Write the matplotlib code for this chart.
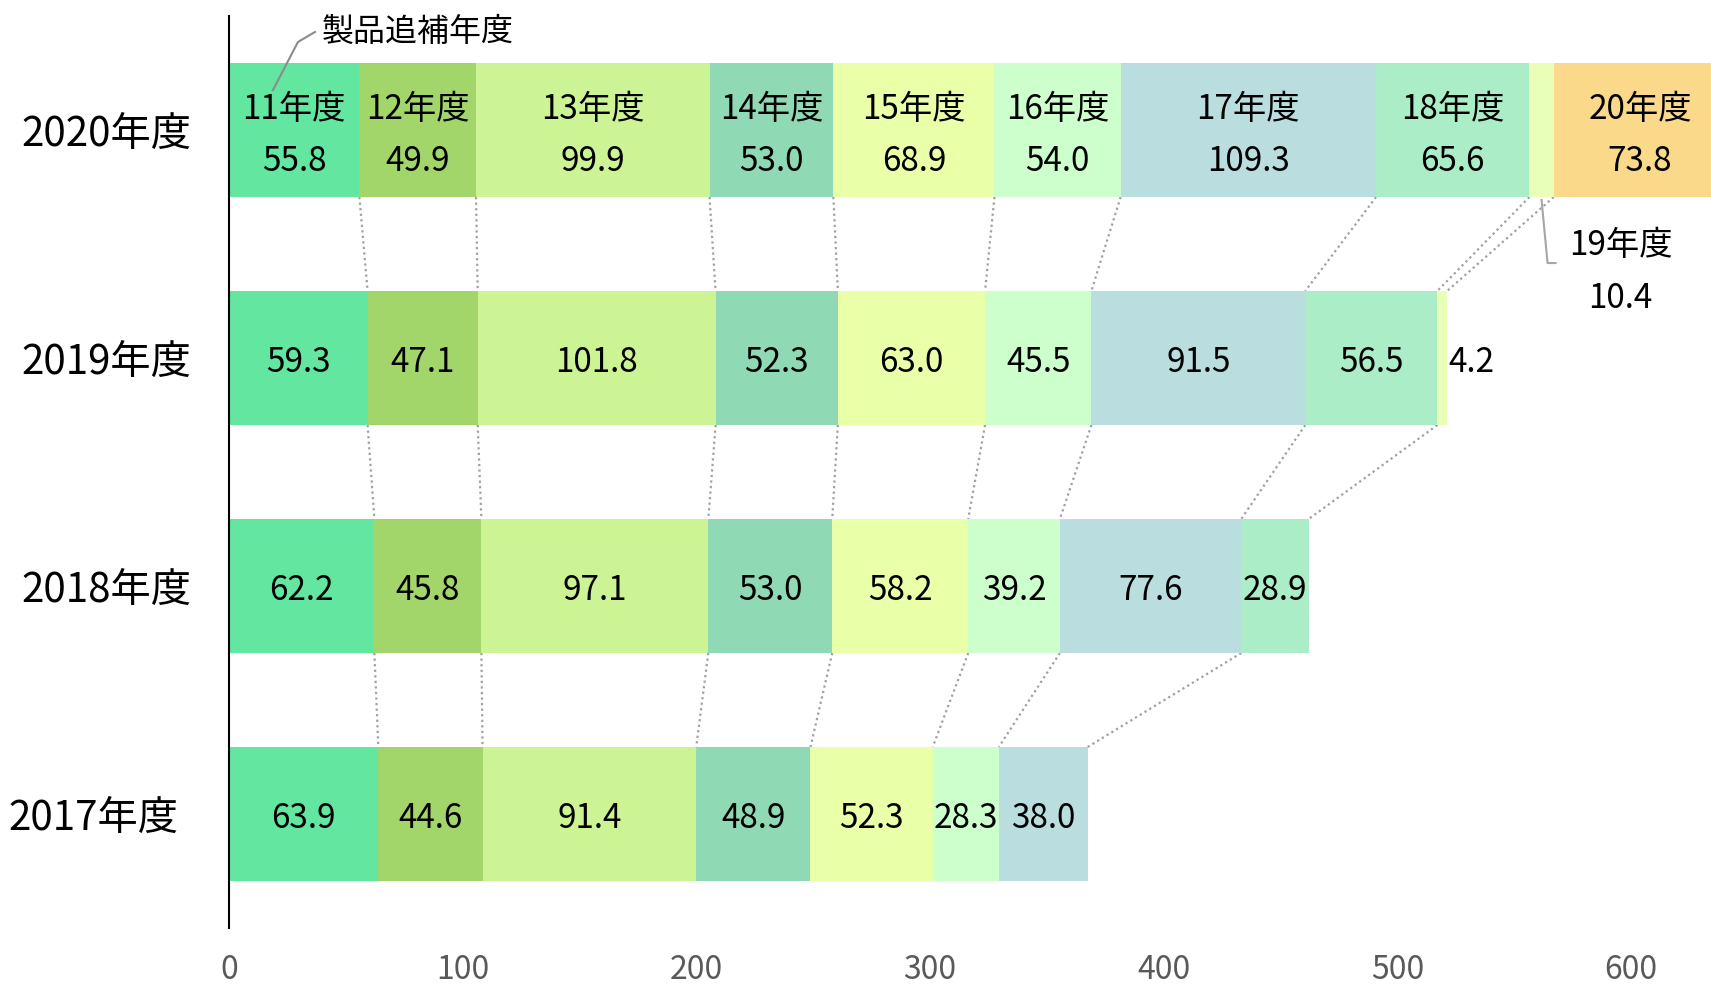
import matplotlib
matplotlib.use("Agg")
import matplotlib.pyplot as plt
import numpy as np

plt.rcParams['font.family'] = ['Noto Sans CJK JP', 'DejaVu Sans']

fiscal_years = ['2017年度', '2018年度', '2019年度', '2020年度']
product_years = ['11年度', '12年度', '13年度', '14年度', '15年度',
                 '16年度', '17年度', '18年度', '19年度', '20年度']
values_2017 = [63.9, 44.6, 91.4, 48.9, 52.3, 28.3, 38.0]
values_2018 = [62.2, 45.8, 97.1, 53.0, 58.2, 39.2, 77.6, 28.9]
values_2019 = [59.3, 47.1, 101.8, 52.3, 63.0, 45.5, 91.5, 56.5, 4.2]
values_2020 = [55.8, 49.9, 99.9, 53.0, 68.9, 54.0, 109.3, 65.6, 10.4, 73.8]
series = [values_2017, values_2018, values_2019, values_2020]
x_ticks = [0, 100, 200, 300, 400, 500, 600]

colors = ['#62E6A0', '#A3D66A', '#CCF495', '#8FDAB4', '#E9FFA8',
          '#CCFFCC', '#BADDE0', '#AAEDC6', '#E9FFB8', '#FBD98A']

W, H = 1711, 990
fig = plt.figure(figsize=(W / 100, H / 100), dpi=100)
ax = fig.add_axes([229 / W, (H - 928) / H, (W - 229) / W, 912 / H])
ax.set_xlim(0, 634.1)
ax.set_ylim(-0.5, 3.5)
pxx = (W - 229) / 634.1   # px per x unit
pxy = 228.0               # px per y unit

bh = 0.588
val_fs = 24
name_fs = 24
dy = -3  # points: vertical nudge of texts

def txt(x, y, s, fs, ha='center', oy=0, ox=0, color='black'):
    ax.annotate(s, (x, y), xytext=(ox, oy + dy), textcoords='offset points',
                ha=ha, va='center', fontsize=fs, color=color,
                annotation_clip=False)

for r, vals in enumerate(series):
    vals = np.array(vals)
    lefts = np.concatenate([[0], np.cumsum(vals)[:-1]])
    ax.barh(r, vals, left=lefts, height=bh, color=colors[:len(vals)],
            linewidth=0)
    last = (r == len(series) - 1)
    for i, (l, v) in enumerate(zip(lefts, vals)):
        cx = l + v / 2
        if v < 15:
            if last:
                yb = r - bh / 2
                ax.plot([cx, cx + 6 / pxx, cx + 14 / pxx],
                        [yb - 3 / pxy, yb - 66 / pxy, yb - 66 / pxy],
                        color='#A6A6A6', lw=1.5, clip_on=False)
                tx = cx + 79 / pxx
                txt(tx, yb - 44 / pxy, product_years[i], name_fs)
                txt(tx, yb - 97 / pxy, f'{v:.1f}', val_fs)
            else:
                txt(l + v, r, f'{v:.1f}', val_fs, ha='left', ox=1)
        else:
            if last:
                txt(cx, r, product_years[i], name_fs, oy=17.5)
                txt(cx, r, f'{v:.1f}', val_fs, oy=-20)
            else:
                txt(cx, r, f'{v:.1f}', val_fs)

# dotted connector lines between consecutive bars
for r in range(len(series) - 1):
    lower = np.cumsum(series[r])
    upper = np.cumsum(series[r + 1])
    for i in range(len(lower)):
        ax.plot([upper[i], lower[i]], [r + 1 - bh / 2, r + bh / 2],
                color='#A0A0A0', lw=1.6, ls=(0, (1, 1.5)), zorder=0.5)

# 製品追補年度 annotation
ax.plot([18.8, 29.5, 36.8], [3.175, 3.386, 3.43], color='#8C8C8C', lw=1.5,
        clip_on=False)
txt(39.8, 3.447, '製品追補年度', 23, ha='left')

# row labels
row_right = [178, 191, 191, 191]
for r, lab in enumerate(fiscal_years):
    xr = (row_right[r] - 229) / pxx
    txt(xr, r, lab, 29, ha='right')

ax.set_yticks([])
ax.set_xticks(x_ticks)
ax.set_xticklabels([str(t) for t in x_ticks], fontsize=23, color='#595959')
ax.tick_params(axis='x', length=0, pad=19)
for s in ['top', 'right', 'bottom']:
    ax.spines[s].set_visible(False)
ax.spines['left'].set_linewidth(1.5)
ax.spines['left'].set_color('black')

fig.savefig('out.png', dpi=100)
